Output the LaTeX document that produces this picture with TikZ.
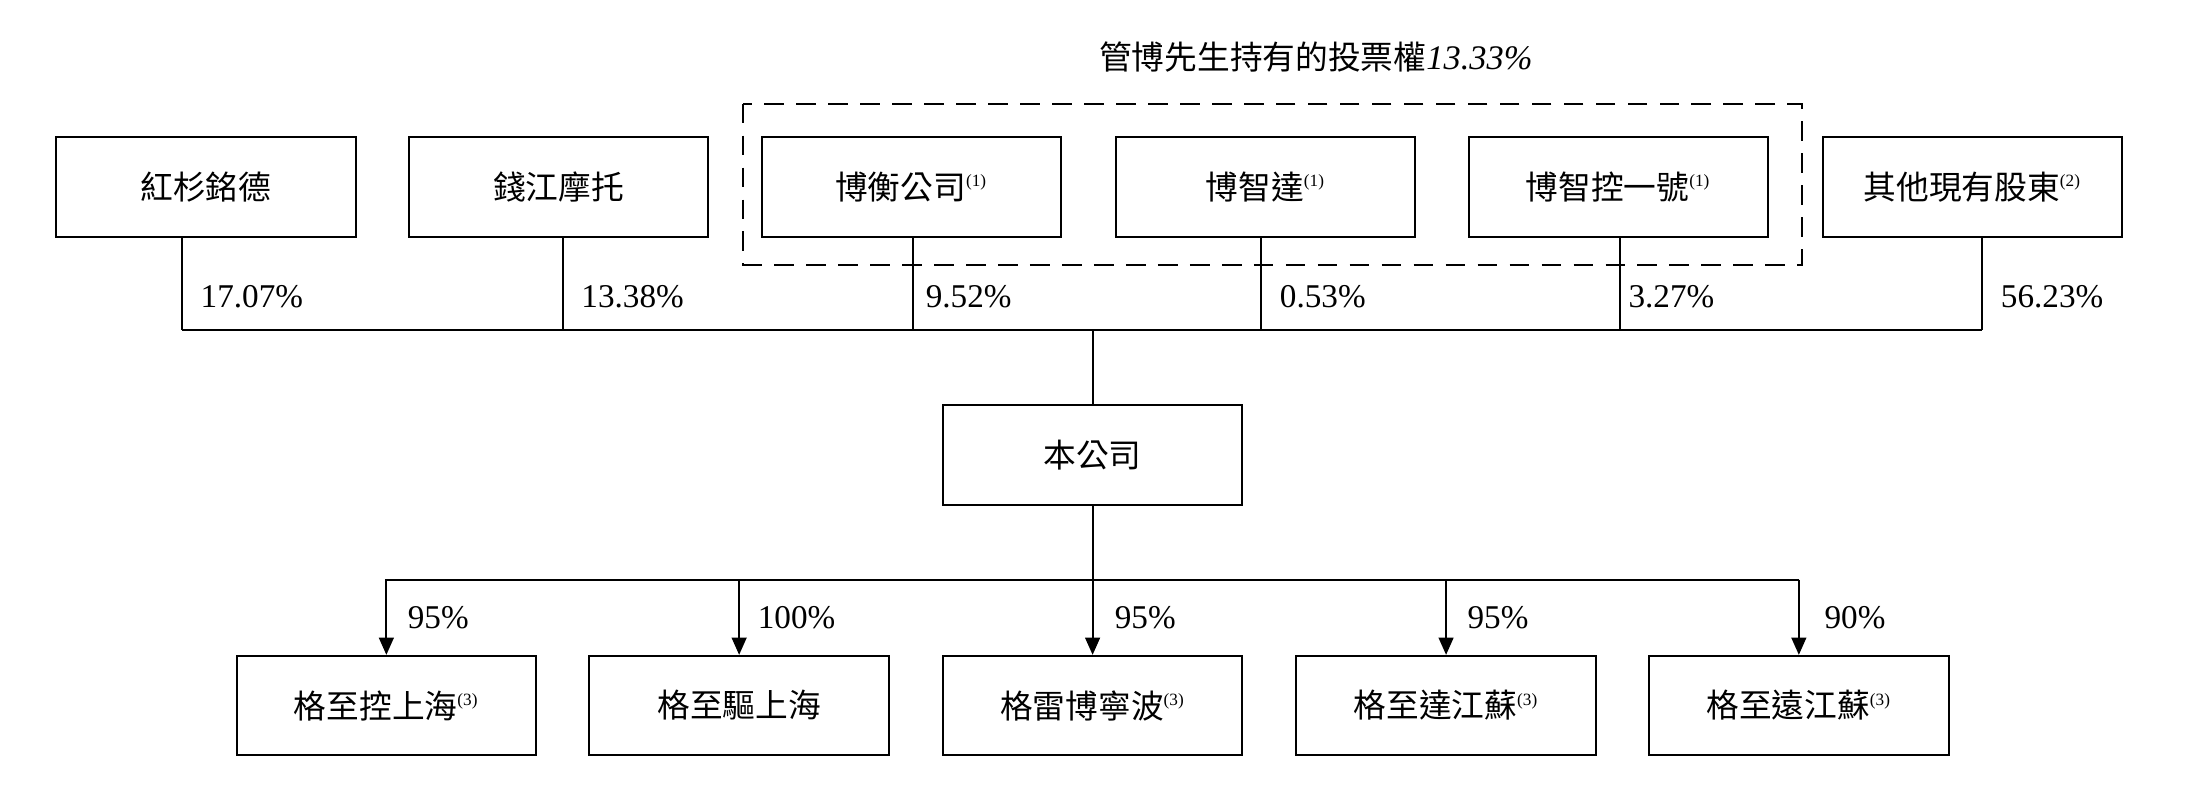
\documentclass[tikz,border=0pt]{standalone}
\usepackage{fontspec}
\setmainfont{Liberation Serif}
\newfontfamily\cjk{Noto Sans CJK TC}[Scale=0.95]
\usetikzlibrary{arrows.meta}
\begin{document}
\begin{tikzpicture}[x=0.02cm,y=-0.02cm,
 box/.style={draw,line width=0.8pt,minimum width=4.28cm,minimum height=1.42cm,font=\cjk\fontsize{14}{16}\selectfont,inner sep=0pt},
 pct/.style={anchor=west,font=\fontsize{13.5}{16}\selectfont,inner sep=0pt},
 ln/.style={line width=0.8pt},
 arr/.style={ln,-{Triangle[length=7pt,width=6pt]}}]
\newcommand{\nt}[1]{\textsuperscript{\rmfamily\fontsize{7}{8}\selectfont(#1)}}
\useasboundingbox (0,0) rectangle (1568,574);
\node[font=\itshape\fontsize{14}{16}\selectfont] (title) at (940,41) {{\cjk 管博先生持有的投票權}13.33\%};
\draw[ln,dash pattern=on 8pt off 5pt] (531,74) rectangle (1287,189);
\node[box] (a) at (147,133.5) {紅杉銘德};
\node[box] (b) at (399,133.5) {錢江摩托};
\node[box] (c) at (651,133.5) {博衡公司\nt{1}};
\node[box] (d) at (904,133.5) {博智達\nt{1}};
\node[box] (e) at (1156,133.5) {博智控一號\nt{1}};
\node[box] (f) at (1409,133.5) {其他現有股東\nt{2}};
\node[box] (m) at (780.5,325) {本公司};
\foreach \n/\x in {a/130,b/402,c/652,d/901,e/1157,f/1416}{
  \coordinate (j\n) at (\x,236);
  \draw[ln] (\n.south -| j\n) -- (j\n);}
\draw[ln] (ja) -- (jf);
\coordinate (top) at (780.5,236);
\draw[ln] (top) -- (m.north);
\node[pct] (pa) at (143,212) {17.07\%};
\node[pct] (pb) at (415,212) {13.38\%};
\node[pct] (pc) at (661,212) {9.52\%};
\node[pct] (pd) at (914,212) {0.53\%};
\node[pct] (pe) at (1163,212) {3.27\%};
\node[pct] (pf) at (1429,212) {56.23\%};
\coordinate (hub) at (780.5,414);
\draw[ln] (m.south) -- (hub);
\node[box] (s1) at (276,504) {格至控上海\nt{3}};
\node[box] (s2) at (528,504) {格至驅上海};
\node[box] (s3) at (780.5,504) {格雷博寧波\nt{3}};
\node[box] (s4) at (1033,504) {格至達江蘇\nt{3}};
\node[box] (s5) at (1285,504) {格至遠江蘇\nt{3}};
\draw[ln] (275,414) -- (1285,414);
\foreach \s in {s1,s2,s3,s4,s5}{\draw[arr] (\s.north |- hub) -- (\s.north);}
\node[pct] at (291,441) {95\%};
\node[pct] at (541,441) {100\%};
\node[pct] at (796,441) {95\%};
\node[pct] at (1048,441) {95\%};
\node[pct] at (1303,441) {90\%};
\end{tikzpicture}
\end{document}
